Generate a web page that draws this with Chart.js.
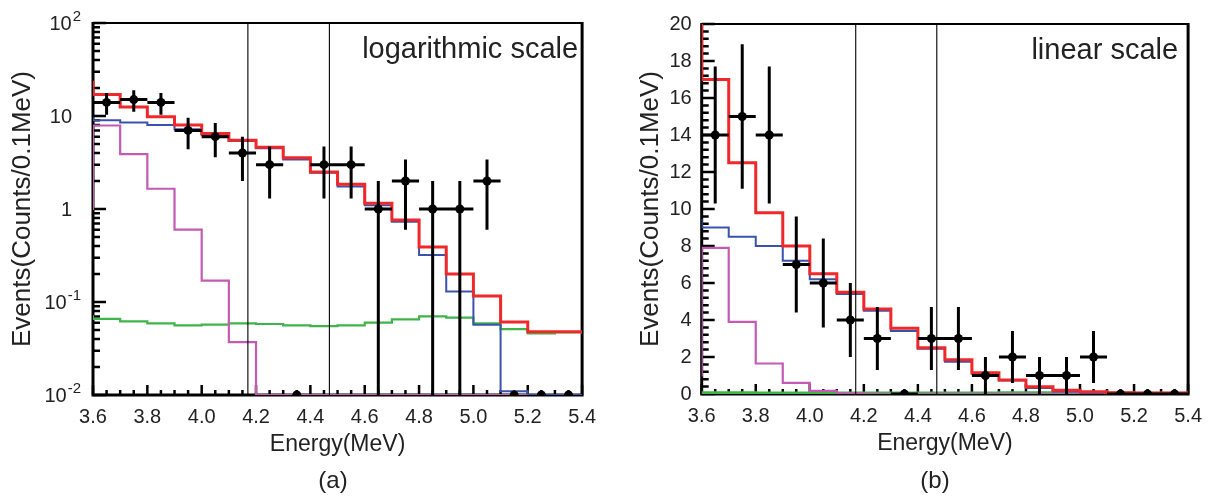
<!DOCTYPE html>
<html>
<head>
<meta charset="utf-8">
<script src="https://cdn.jsdelivr.net/npm/chart.js@4.4.0/dist/chart.umd.min.js"></script>
<style>
  body { margin: 0; background: #fff; width: 1212px; height: 498px; position: relative; overflow: hidden; font-family: "Liberation Sans", Arial, sans-serif; }
  .panel { position: absolute; top: 0; width: 606px; height: 498px; }
  .tag { position: absolute; top: 466px; width: 60px; text-align: center; font-size: 24px; color: #222; }
</style>
</head>
<body>
<div class="panel" style="left:0"><canvas id="log-chart" width="606" height="498"></canvas></div>
<div class="panel" style="left:606px"><canvas id="lin-chart" width="606" height="498"></canvas></div>
<div class="tag" style="left:303px">(a)</div>
<div class="tag" style="left:905px">(b)</div>
<script>
// measured events per 0.1 MeV bin
const binCenters = [3.65, 3.75, 3.85, 3.95, 4.05, 4.15, 4.25, 4.35, 4.45, 4.55, 4.65, 4.75, 4.85, 4.95, 5.05, 5.15, 5.25, 5.35];
const counts = [14, 15, 14, 7, 6, 4, 3, 0, 3, 3, 1, 2, 1, 1, 2, 0, 0, 0];
const countErrors = [3.7, 3.9, 3.7, 2.6, 2.4, 2.0, 1.7, 0, 1.7, 1.7, 1.0, 1.4, 1.0, 1.0, 1.4, 0, 0, 0];
const binHalfWidth = 0.05;

// histogram bin left edges (first bin 3.5-3.6 is only seen as the edge step)
const histEdges = [3.5, 3.6, 3.7, 3.8, 3.9, 4.0, 4.1, 4.2, 4.3, 4.4, 4.5, 4.6, 4.7, 4.8, 4.9, 5.0, 5.1, 5.2, 5.3, 5.4];
const fitTotal = [23, 17, 12.5, 9.8, 8.0, 6.5, 5.5, 4.6, 3.55, 2.5, 1.85, 1.15, 0.76, 0.39, 0.2, 0.116, 0.061, 0.048, 0.048];
const fitBlue = [9.4, 9.0, 8.5, 8.0, 7.2, 6.2, 5.4, 4.5, 3.4, 2.45, 1.75, 1.1, 0.73, 0.32, 0.13, 0.057, 0.011, 0, 0];
const fitMagenta = [1.0, 7.9, 3.9, 1.65, 0.6, 0.17, 0.037, 0, 0, 0, 0, 0, 0, 0, 0, 0, 0, 0, 0];
const fitGreen = [0.07, 0.066, 0.062, 0.059, 0.056, 0.057, 0.059, 0.058, 0.056, 0.055, 0.056, 0.060, 0.065, 0.070, 0.068, 0.059, 0.051, 0.046, 0.047];

// vertical window lines
const windowLines = [4.17, 4.47];

// log axis labels
const logTickValues = [0.01, 0.1, 1, 10, 100];
const logTickBase = ["10", "10", "1", "10", "10"];
const logTickExp = ["-2", "-1", "", "", "2"];

const fontFamily = '"Liberation Sans", Arial, sans-serif';
const textColor = "#222";
const logFloor = 0.01;
Chart.defaults.font.family = fontFamily;
Chart.defaults.color = textColor;

function histPoints(vals, isLog) {
    const pts = vals.map((v, i) => ({x: histEdges[i], y: isLog && v <= 0 ? logFloor : v}));
    pts.push({x: histEdges[vals.length], y: pts[pts.length - 1].y});
    return pts;
}

function dataPoints(isLog) {
    const dots = [], vBars = [], hBars = [];
    counts.forEach((n, i) => {
        const x = binCenters[i];
        const y = isLog && n <= 0 ? logFloor : n;
        dots.push({x, y});
        if (countErrors[i] > 0) {
            let lo = n - countErrors[i];
            if (lo <= 0) lo = isLog ? logFloor : 0;
            vBars.push({x, y: lo}, {x, y: n + countErrors[i]}, {x, y: null});
        }
        if (!(isLog && n <= 0)) {
            hBars.push({x: x - binHalfWidth, y}, {x: x + binHalfWidth, y}, {x, y: null});
        }
    });
    return {dots, vBars, hBars};
}

function windowPoints(yMin, yMax) {
    const pts = [];
    windowLines.forEach(x => pts.push({x, y: yMin}, {x, y: yMax}, {x, y: null}));
    return pts;
}

// frame, inward ticks and text
const frameTicks = {
    id: "frameTicks",
    beforeDatasetsDraw(chart, args, opts) {
        const {ctx, chartArea: a, scales: {x, y}} = chart;
        ctx.save();
        ctx.strokeStyle = "#000";
        ctx.lineWidth = 2.5;
        ctx.beginPath();
        for (let k = 0; k <= 36; k++) {
            const v = 3.6 + k * 0.05;
            const len = k % 4 === 0 ? 10 : 5;
            const px = x.getPixelForValue(v);
            ctx.moveTo(px, a.bottom);
            ctx.lineTo(px, a.bottom - len);
        }
        opts.yMinor.forEach(v => {
            const py = y.getPixelForValue(v);
            ctx.moveTo(a.left, py);
            ctx.lineTo(a.left + 7, py);
        });
        opts.yMajor.forEach(v => {
            const py = y.getPixelForValue(v);
            ctx.moveTo(a.left, py);
            ctx.lineTo(a.left + 13, py);
        });
        ctx.stroke();
        // frame
        ctx.lineWidth = 2;
        ctx.beginPath();
        ctx.moveTo(a.left, a.top);
        ctx.lineTo(a.right, a.top);
        ctx.stroke();
        ctx.lineWidth = 3;
        ctx.beginPath();
        ctx.moveTo(a.left, a.top - 1);
        ctx.lineTo(a.left, a.bottom);
        ctx.lineTo(a.right, a.bottom);
        ctx.lineTo(a.right, a.top - 1);
        ctx.stroke();
        ctx.restore();
    },
    afterDraw(chart, args, opts) {
        const {ctx, chartArea: a, scales: {y}} = chart;
        ctx.save();
        ctx.fillStyle = textColor;
        ctx.textBaseline = "alphabetic";
        ctx.font = "29px " + fontFamily;
        ctx.textAlign = "right";
        ctx.fillText(opts.label, a.right - opts.labelInset, a.top + 35);
        if (opts.logLabels) {
            logTickValues.forEach((v, i) => {
                const py = y.getPixelForValue(v);
                const base = logTickBase[i], exp = logTickExp[i];
                ctx.font = "15px " + fontFamily;
                const ew = exp ? ctx.measureText(exp).width : 0;
                const baseRight = exp ? 72 + 8 - ew : 72;
                ctx.textAlign = "right";
                ctx.font = "20px " + fontFamily;
                ctx.fillText(base, baseRight, py + 7);
                if (exp) {
                    ctx.textAlign = "left";
                    ctx.font = "15px " + fontFamily;
                    ctx.fillText(exp, baseRight + 1, py - 2);
                }
            });
        }
        ctx.restore();
    }
};

function makeChart(canvasId, isLog, cfg) {
    const pts = dataPoints(isLog);
    const yMin = isLog ? 0.01 : 0, yMax = isLog ? 100 : 20;
    const dataClip = {left: 6, right: 6, top: 6, bottom: 0};
    const lineBase = {pointRadius: 0, spanGaps: false, fill: false};
    return new Chart(document.getElementById(canvasId).getContext("2d"), {
        type: "line",
        data: {
            datasets: [
                {...lineBase, label: "data", data: pts.dots, showLine: false, pointRadius: 4.5,
                    pointBackgroundColor: "#000", pointBorderWidth: 0, clip: dataClip},
                {...lineBase, label: "err y", data: pts.vBars, borderColor: "#000", borderWidth: 3, clip: dataClip},
                {...lineBase, label: "err x", data: pts.hBars, borderColor: "#000", borderWidth: 3, clip: dataClip},
                {...lineBase, label: "window", data: windowPoints(yMin, yMax), borderColor: "#000", borderWidth: 1.1},
                {...lineBase, label: "total", data: histPoints(fitTotal, isLog), stepped: "before", borderColor: "#f0282a", borderWidth: 3},
                {...lineBase, label: "blue", data: histPoints(fitBlue, isLog), stepped: "before", borderColor: "#3b52ac", borderWidth: 2},
                {...lineBase, label: "magenta", data: histPoints(fitMagenta, isLog), stepped: "before", borderColor: "#c35bb3", borderWidth: 2.2},
                {...lineBase, label: "green", data: histPoints(fitGreen, isLog), stepped: "before", borderColor: "#3fb448", borderWidth: isLog ? 2.2 : 3},
            ],
        },
        options: {
            responsive: false,
            animation: false,
            layout: {padding: {top: cfg.top, right: 19, bottom: cfg.bottom, left: 0}},
            plugins: {
                legend: {display: false},
                tooltip: {enabled: false},
                frameTicks: cfg.frame,
            },
            scales: {
                x: {
                    type: "linear",
                    min: 3.6,
                    max: 5.4,
                    afterFit: s => { s.height = 64; },
                    grid: {display: false, drawTicks: false},
                    border: {display: false},
                    ticks: {stepSize: 0.2, autoSkip: false, maxRotation: 0, padding: 10,
                        font: {size: 20}, callback: v => v.toFixed(1)},
                    title: {display: true, text: "Energy(MeV)", font: {size: 23}, padding: {top: 0, bottom: 1}},
                },
                y: {
                    type: isLog ? "logarithmic" : "linear",
                    min: yMin,
                    max: yMax,
                    afterFit: s => { s.width = cfg.yWidth; },
                    grid: {display: false, drawTicks: false},
                    border: {display: false},
                    ticks: {display: !isLog, stepSize: 2, padding: 10, font: {size: 20}},
                    title: {display: true, text: "Events(Counts/0.1MeV)", font: {size: 26}, padding: {top: cfg.titlePad, bottom: 0}},
                },
            },
        },
        plugins: [frameTicks],
    });
}

const logMajor = [0.01, 0.1, 1, 10, 100];
const logMinor = [];
[0.01, 0.1, 1, 10].forEach(d => { for (let m = 2; m <= 9; m++) logMinor.push(d * m); });
const linMajor = [], linMinor = [];
for (let k = 0; k <= 50; k++) { (k % 5 === 0 ? linMajor : linMinor).push(k * 0.4); }

makeChart("log-chart", true, {
    top: 23, bottom: 39, yWidth: 93, titlePad: 7,
    frame: {yMajor: logMajor, yMinor: logMinor, label: "logarithmic scale", labelInset: 4, logLabels: true},
});
makeChart("lin-chart", false, {
    top: 24, bottom: 40, yWidth: 95.7, titlePad: 29,
    frame: {yMajor: linMajor, yMinor: linMinor, label: "linear scale", labelInset: 10, logLabels: false},
});
</script>
</body>
</html>
